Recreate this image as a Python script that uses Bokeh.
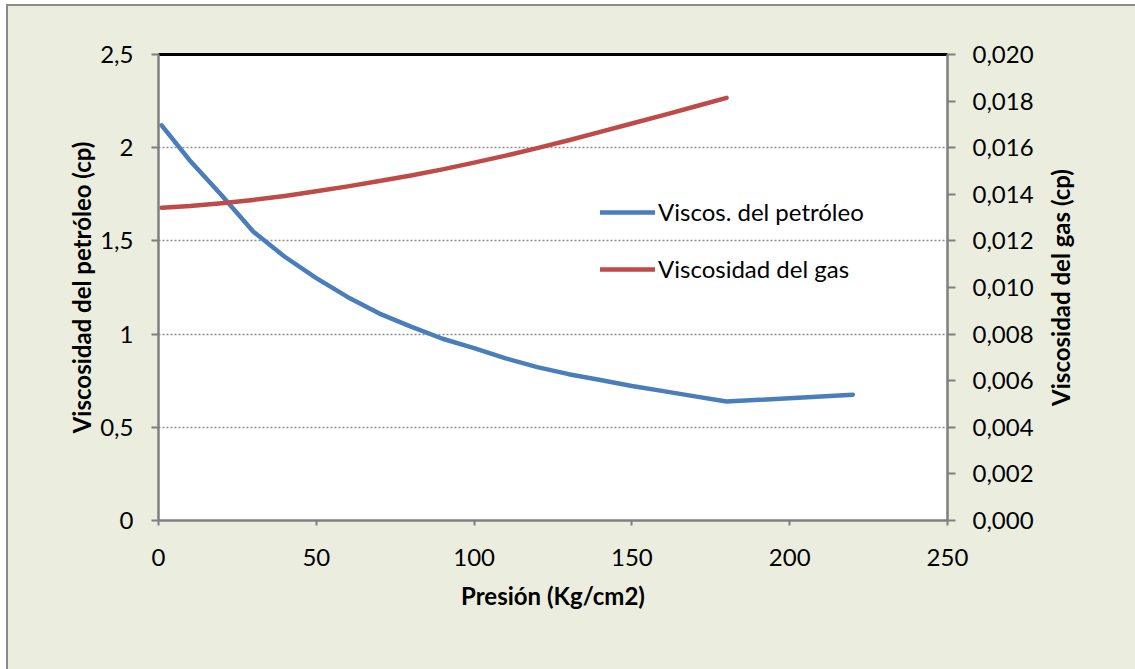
import math
from bokeh.plotting import figure
from bokeh.layouts import row
from bokeh.models import (Range1d, LinearAxis, FixedTicker, CustomJSTickFormatter,
                          Legend, LegendItem)
from bokeh.core.properties import value
from bokeh.embed import file_html
from bokeh.resources import INLINE

# Presión (Kg/cm2) y viscosidad del petróleo (cp)
presion_petroleo = [1, 10, 20, 30, 40, 50, 60, 70, 80, 90, 100, 110, 120,
                    130, 140, 150, 160, 170, 180, 220]
visc_petroleo = [2.12, 1.93, 1.745, 1.55, 1.415, 1.30, 1.198, 1.11, 1.04, 0.975,
                 0.925, 0.87, 0.823, 0.785, 0.754, 0.722, 0.694, 0.666, 0.638, 0.675]

# Presión (Kg/cm2) y viscosidad del gas (cp)
presion_gas = [1, 10, 20, 30, 40, 50, 60, 70, 80, 90, 100, 110, 120,
               130, 140, 150, 160, 170, 180]
visc_gas = [0.01342, 0.01350, 0.01362, 0.01376, 0.01393, 0.01413, 0.01434,
            0.01457, 0.01481, 0.01507, 0.01536, 0.01566, 0.01598, 0.01632,
            0.01668, 0.01704, 0.01740, 0.01777, 0.01814]

x_ticks = [0, 50, 100, 150, 200, 250]
y_ticks = [0, 0.5, 1, 1.5, 2, 2.5]
y2_ticks = [0, 0.002, 0.004, 0.006, 0.008, 0.010, 0.012, 0.014, 0.016, 0.018, 0.020]

FONT = "Lato"
BG = "#ebeedf"
AXIS_GRAY = "#7f7f7f"
BLUE = "#4a7ebb"
RED = "#be4b48"

H = 663
B_TOP, B_BOTTOM = 48, 149

p = figure(width=1032, height=H,
           x_range=Range1d(0, 250), y_range=Range1d(0, 2.5),
           output_backend="svg", toolbar_location=None,
           min_border_left=150, min_border_top=B_TOP,
           min_border_right=93, min_border_bottom=B_BOTTOM)
p.extra_y_ranges = {"gas": Range1d(0, 0.020)}

p.background_fill_color = "white"
p.border_fill_color = BG
p.outline_line_color = None

r_pet = p.line(presion_petroleo, visc_petroleo, line_color=BLUE, line_width=4.5,
               line_cap="round", line_join="round")
r_gas = p.line(presion_gas, visc_gas, line_color=RED, line_width=4.5,
               line_cap="round", line_join="round", y_range_name="gas")

def style_axis(ax):
    ax.axis_line_color = AXIS_GRAY
    ax.axis_line_width = 2.5
    ax.major_tick_line_color = AXIS_GRAY
    ax.major_tick_line_width = 2
    ax.major_tick_in = 0
    ax.major_tick_out = 7
    ax.minor_tick_line_color = None
    ax.major_label_text_font = FONT
    ax.major_label_text_font_size = "24px"
    ax.major_label_text_color = "black"
    ax.axis_label_text_font = FONT
    ax.axis_label_text_font_size = "24px"
    ax.axis_label_text_font_style = "bold"
    ax.axis_label_text_color = "black"

# Eje X
xa = p.xaxis[0]
style_axis(xa)
xa.ticker = FixedTicker(ticks=x_ticks)
xa.major_tick_out = 5
xa.major_label_standoff = 23
xa.axis_label = "Presión (Kg/cm2)"
xa.axis_label_standoff = 12

# Eje Y izquierdo: petróleo
ya = p.yaxis[0]
style_axis(ya)
ya.ticker = FixedTicker(ticks=y_ticks)
ya.formatter = CustomJSTickFormatter(code="return tick.toString().replace('.', ',');")
ya.major_label_standoff = 18
ya.axis_label = "Viscosidad del petróleo (cp)"
ya.axis_label_standoff = 1

# Eje Y derecho: gas
ya2 = LinearAxis(y_range_name="gas")
style_axis(ya2)
ya2.ticker = FixedTicker(ticks=y2_ticks)
ya2.formatter = CustomJSTickFormatter(code="return tick.toFixed(3).replace('.', ',');")
ya2.major_tick_out = 8
ya2.major_label_standoff = 17
p.add_layout(ya2, "right")

# Borde superior negro del área de trazado
top = LinearAxis(ticker=FixedTicker(ticks=[]))
top.axis_line_color = "black"
top.axis_line_width = 3
top.major_tick_line_color = None
top.minor_tick_line_color = None
top.major_label_text_font_size = "0px"
p.add_layout(top, "above")

p.xgrid.grid_line_color = None
p.ygrid.ticker = FixedTicker(ticks=[0.5, 1, 1.5, 2])
p.ygrid.grid_line_color = "#8c8c8c"
p.ygrid.grid_line_width = 1.5
p.ygrid.grid_line_dash = "2 2"

legend = Legend(items=[LegendItem(label="Viscos. del petróleo", renderers=[r_pet]),
                       LegendItem(label="Viscosidad del gas", renderers=[r_gas])],
                location=(442, 237))
legend.label_text_font = FONT
legend.label_text_font_size = "24px"
legend.label_text_color = "black"
legend.glyph_width = 55
legend.glyph_height = 24
legend.label_height = 24
legend.label_standoff = 3
legend.spacing = 28
legend.padding = 0
legend.margin = 0
legend.border_line_color = None
legend.background_fill_alpha = 0
p.add_layout(legend)

# Franja derecha con el título del eje del gas, leído de abajo hacia arriba
side_w = 95
side = figure(width=side_w, height=H,
              x_range=Range1d(0, side_w), y_range=Range1d(0, 2.5),
              x_axis_type=None, y_axis_type=None,
              output_backend="svg", toolbar_location=None,
              min_border_left=0, min_border_right=0,
              min_border_top=B_TOP, min_border_bottom=B_BOTTOM)
side.background_fill_color = BG
side.border_fill_color = BG
side.outline_line_color = None
side.text(x=[20], y=[1.25], text=["Viscosidad del gas (cp)"], angle=math.pi / 2,
          text_align="center", text_baseline="middle",
          text_font=value(FONT), text_font_size="24px", text_font_style="bold",
          text_color="black")

layout = row(p, side, spacing=0)
layout.margin = (4, 0, 0, 6)
layout.styles = {"border-left": "2px solid #8a8a8a", "border-top": "2px solid #8a8a8a",
                 "background-color": BG}

open("out.html", "w").write(file_html(layout, INLINE))
